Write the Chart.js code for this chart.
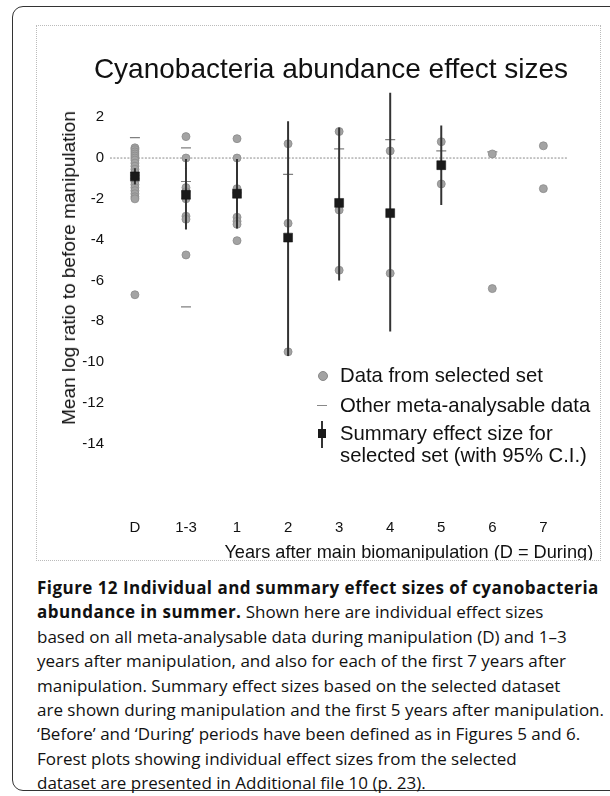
<!DOCTYPE html>
<html>
<head>
<meta charset="utf-8">
<script src="https://cdn.jsdelivr.net/npm/chart.js@4/dist/chart.umd.min.js"></script>
<style>
  html, body { margin: 0; padding: 0; background: #fff; overflow: hidden; }
  body { width: 610px; height: 796px; position: relative; font-family: "Liberation Sans", Arial, sans-serif; color: #111; }
  #frame { position: absolute; left: 12px; top: 6px; width: 640px; height: 783px; border: 1.5px solid #333; border-radius: 11px; }
  #panel { position: absolute; left: 36px; top: 25px; width: 563px; height: 534px; border: 1px dotted #bbb; }
  #wrap { position: absolute; left: 36px; top: 25px; width: 564px; height: 535px; }
  #ytitle { position: absolute; left: 69px; top: 268px; font-size: 19px; line-height: 22px; white-space: nowrap; transform: translate(-50%, -50%) rotate(-90deg); }
  .leg { position: absolute; left: 340px; font-size: 20.3px; line-height: 24px; white-space: nowrap; }
  .mk { position: absolute; }
  #caption { position: absolute; left: 37px; top: 576px; font-family: "Open Sans", sans-serif; font-size: 17px; line-height: 24.4px; white-space: nowrap; color: #111; }
  #caption b { letter-spacing: 0.46px; }
</style>
</head>
<body>
<div id="frame"></div>
<div id="panel"></div>
<div id="wrap"><canvas id="chart"></canvas></div>
<div id="ytitle">Mean log ratio to before manipulation</div>

<!-- legend -->
<div class="mk" style="left:318px;top:371px;width:8px;height:8px;border-radius:50%;background:#a3a3a3;border:0.5px solid #888;"></div>
<div class="leg" style="top:363px;">Data from selected set</div>
<div class="mk" style="left:317px;top:405px;width:10px;height:0;border-top:1.2px solid #888;"></div>
<div class="leg" style="top:393px;">Other meta-analysable data</div>
<div class="mk" style="left:321px;top:421px;width:2px;height:27px;background:#333;"></div>
<div class="mk" style="left:318px;top:429px;width:8px;height:9px;background:#1a1a1a;"></div>
<div class="leg" style="top:421px;">Summary effect size for</div>
<div class="leg" style="top:443px;">selected set (with 95% C.I.)</div>

<div id="caption"><b>Figure 12 Individual and summary effect sizes of cyanobacteria</b><br><b>abundance in summer.</b> Shown here are individual effect sizes<br>based on all meta-analysable data during manipulation (D) and 1–3<br>years after manipulation, and also for each of the first 7 years after<br>manipulation. Summary effect sizes based on the selected dataset<br>are shown during manipulation and the first 5 years after manipulation.<br>‘Before’ and ‘During’ periods have been defined as in Figures 5 and 6.<br>Forest plots showing individual effect sizes from the selected<br>dataset are presented in Additional file 10 (p. 23).</div>

<script>
// Periods: during manipulation, years 1-3 pooled, then single years 1..7
const categories = ['D', '1-3', '1', '2', '3', '4', '5', '6', '7'];

// Individual effect sizes from the selected set, one list per period
const selectedSet = [
  [0.5, 0.4, 0.3, 0.2, 0.1, 0.0, -0.1, -0.25, -0.4, -0.55, -0.7, -0.85, -1.0, -1.15, -1.3, -1.45, -1.6, -1.75, -1.9, -2.0, -6.7],
  [1.05, 0.0, -1.45, -1.65, -2.0, -2.85, -3.0, -4.75],
  [0.95, 0.0, -1.5, -1.7, -2.9, -3.1, -3.25, -4.05],
  [0.7, -3.2, -9.5],
  [1.3, -2.55, -5.5],
  [0.35, -5.65],
  [0.8, -1.27],
  [0.2, -6.4],
  [0.6, -1.5]
];

// Other meta-analysable effect sizes, one list per period
const otherData = [
  [1.0],
  [0.5, -1.15, -7.3],
  [],
  [-0.8],
  [0.45],
  [0.9],
  [0.35],
  [0.3],
  []
];

// Summary effect sizes with 95% confidence limits (D and years 1-3, 1..5)
const summaryEffect = [-0.9, -1.8, -1.75, -3.9, -2.2, -2.7, -0.35];
const ciLow  = [-1.3, -3.5, -3.45, -9.7, -6.0, -8.5, -2.3];
const ciHigh = [-0.5, -0.05, -0.05, 1.8, 1.5, 3.2, 1.6];

const yTicks = [2, 0, -2, -4, -6, -8, -10, -12, -14];
const zeroLineSpan = [-0.49, 8.49];

const selectedPoints = [];
selectedSet.forEach((vals, i) => vals.forEach(v => selectedPoints.push({ x: i, y: v })));
const otherPoints = [];
otherData.forEach((vals, i) => vals.forEach(v => otherPoints.push({ x: i, y: v })));
const summaryPoints = summaryEffect.map((v, i) => ({ x: i, y: v }));
const ciSegments = [];
ciLow.forEach((lo, i) => {
  ciSegments.push({ x: i, y: lo }, { x: i, y: ciHigh[i] }, { x: i, y: null });
});

const FONT = "'Liberation Sans', Arial, sans-serif";
Chart.defaults.font.family = FONT;
Chart.defaults.color = '#111';

new Chart(document.getElementById('chart'), {
  type: 'scatter',
  data: {
    datasets: [
      {
        label: 'Summary effect size for selected set (with 95% C.I.)',
        data: summaryPoints,
        pointStyle: 'rect',
        radius: 6.3,
        backgroundColor: '#1a1a1a',
        borderColor: '#111',
        borderWidth: 0.5
      },
      {
        label: '95% C.I.',
        type: 'line',
        data: ciSegments,
        borderColor: '#333',
        borderWidth: 2,
        pointRadius: 0,
        spanGaps: false,
        fill: false
      },
      {
        label: 'Data from selected set',
        data: selectedPoints,
        pointStyle: 'circle',
        radius: 4,
        backgroundColor: '#a3a3a3',
        borderColor: '#8a8a8a',
        borderWidth: 0.8
      },
      {
        label: 'Other meta-analysable data',
        data: otherPoints,
        pointStyle: 'line',
        radius: 5,
        borderColor: '#808080',
        borderWidth: 1.2
      },
      {
        label: 'zero',
        type: 'line',
        data: zeroLineSpan.map(x => ({ x, y: 0 })),
        borderColor: '#8a8a8a',
        borderWidth: 1,
        borderDash: [2, 1.5],
        pointRadius: 0,
        fill: false
      }
    ]
  },
  options: {
    responsive: true,
    maintainAspectRatio: false,
    animation: false,
    layout: { padding: { left: 31, right: 5, top: 0, bottom: 0 } },
    plugins: {
      legend: { display: false },
      tooltip: { enabled: false },
      title: {
        display: true,
        text: 'Cyanobacteria abundance effect sizes',
        font: { size: 28, weight: 'normal', family: FONT, lineHeight: 1.2 },
        color: '#111',
        padding: { top: 28, bottom: -2 }
      }
    },
    scales: {
      x: {
        type: 'linear',
        min: -0.488,
        max: 8.976,
        afterBuildTicks: s => { s.ticks = categories.map((c, i) => ({ value: i })); },
        afterFit: s => { s.height = 47; },
        grid: { display: false, drawTicks: false },
        border: { display: false },
        ticks: {
          autoSkip: false,
          maxRotation: 0,
          padding: 6,
          font: { size: 15 },
          color: '#111',
          callback: v => categories[v]
        },
        title: {
          display: true,
          text: 'Years after main biomanipulation (D = During)',
          align: 'end',
          font: { size: 18.2, lineHeight: 1.2 },
          color: '#111',
          padding: { top: 0, bottom: -4 }
        }
      },
      y: {
        min: -17.4,
        max: 3.6,
        afterBuildTicks: s => { s.ticks = yTicks.map(v => ({ value: v })); },
        afterFit: s => { s.width = 43; },
        grid: { display: false, drawTicks: false },
        border: { display: false },
        ticks: { padding: 6, font: { size: 15 }, color: '#111' },
        title: { display: false }
      }
    }
  }
});
</script>
</body>
</html>
